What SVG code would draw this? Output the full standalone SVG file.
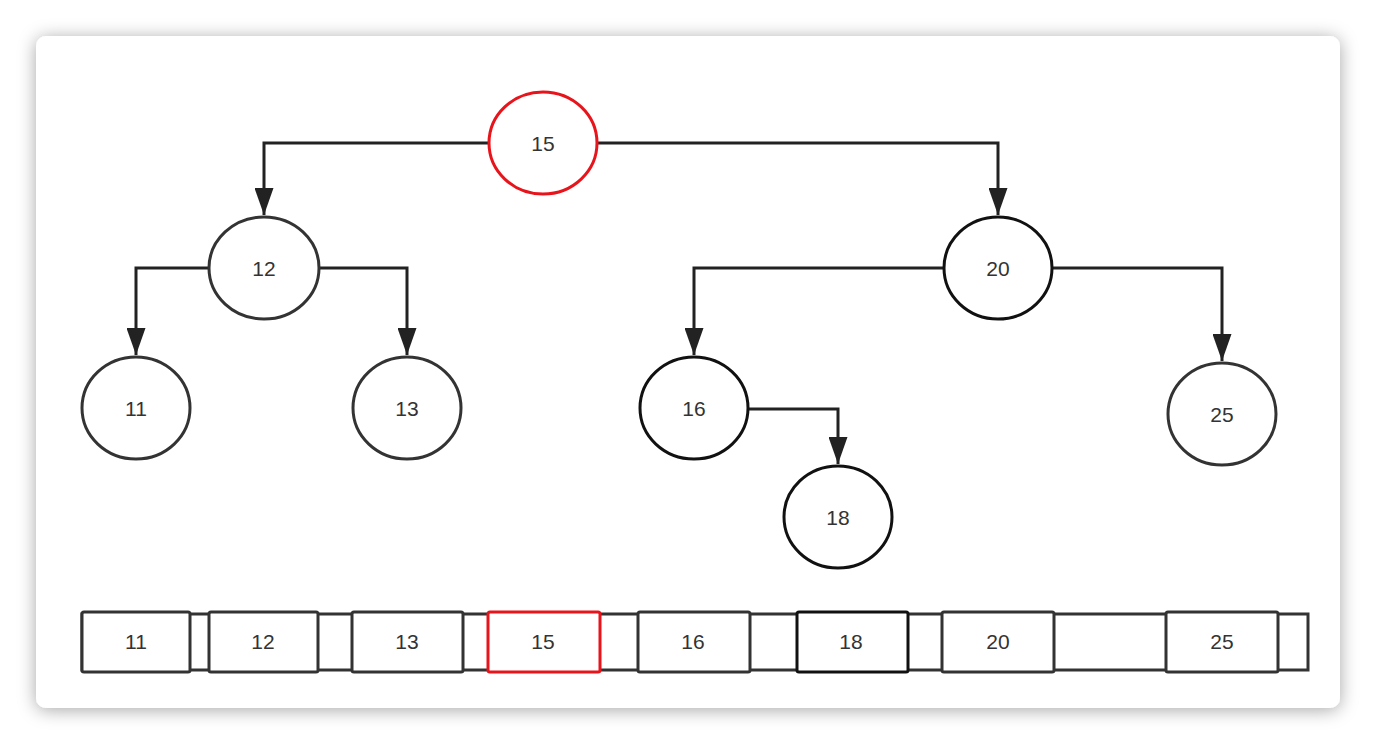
<svg xmlns="http://www.w3.org/2000/svg" width="1376" height="744" viewBox="0 0 1376 744">
<defs>
<filter id="sh" x="-5%" y="-8%" width="110%" height="116%">
<feDropShadow dx="0" dy="2" stdDeviation="9" flood-color="#000" flood-opacity="0.35"/>
</filter>
<marker id="ah" markerWidth="27" markerHeight="19" refX="27" refY="9.5" orient="auto" markerUnits="userSpaceOnUse" viewBox="0 0 27 19">
<path d="M0,0 L27,9.5 L0,19 Z" fill="#222"/>
</marker>
<style>
.n{fill:#fff;stroke:#333;stroke-width:3}
.b{fill:#fff;stroke:#333;stroke-width:3}
.k{stroke:#111}
.r{stroke:#e8141c}
.t{font-family:"Liberation Sans",Arial,sans-serif;font-size:21px;fill:#333;text-anchor:middle;dominant-baseline:central}
.c{fill:none;stroke:#222;stroke-width:3}
</style>
</defs>
<rect width="1376" height="744" fill="#fff"/>
<rect x="36" y="36" width="1304" height="672" rx="10" fill="#fff" filter="url(#sh)"/>
<g id="connectors">
<path class="c" d="M489,143 H264 V215" marker-end="url(#ah)"/>
<path class="c" d="M598,143 H998 V215" marker-end="url(#ah)"/>
<path class="c" d="M209,268 H136 V355" marker-end="url(#ah)"/>
<path class="c" d="M318,268 H407 V355" marker-end="url(#ah)"/>
<path class="c" d="M944,268 H694 V355" marker-end="url(#ah)"/>
<path class="c" d="M1052,268 H1222 V361" marker-end="url(#ah)"/>
<path class="c" d="M748,409 H838 V464" marker-end="url(#ah)"/>
</g>
<g id="n15"><ellipse class="n r" cx="543" cy="143" rx="54" ry="51"/><text class="t" x="543" y="143">15</text></g>
<g id="n12"><ellipse class="n" cx="264" cy="268" rx="55" ry="51"/><text class="t" x="264" y="268">12</text></g>
<g id="n20"><ellipse class="n k" cx="998" cy="268" rx="54" ry="51"/><text class="t" x="998" y="268">20</text></g>
<g id="n11"><ellipse class="n" cx="136" cy="408" rx="54" ry="51"/><text class="t" x="136" y="408">11</text></g>
<g id="n13"><ellipse class="n" cx="407" cy="408" rx="54" ry="51"/><text class="t" x="407" y="408">13</text></g>
<g id="n16"><ellipse class="n k" cx="694" cy="408" rx="54" ry="51"/><text class="t" x="694" y="408">16</text></g>
<g id="n25"><ellipse class="n" cx="1222" cy="414" rx="54" ry="51"/><text class="t" x="1222" y="414">25</text></g>
<g id="n18"><ellipse class="n k" cx="838" cy="517" rx="54" ry="51"/><text class="t" x="838" y="517">18</text></g>
<g id="array">
<rect class="b" x="82" y="614" width="1226" height="56"/>
<g id="a11"><rect class="b" x="82" y="612" width="108" height="60" rx="2"/><text class="t" x="136" y="641">11</text></g>
<g id="a12"><rect class="b" x="209" y="612" width="109" height="60" rx="2"/><text class="t" x="263" y="641">12</text></g>
<g id="a13"><rect class="b" x="352" y="612" width="111" height="60" rx="2"/><text class="t" x="407" y="641">13</text></g>
<g id="a15"><rect class="b r" x="488" y="612" width="112" height="60" rx="2"/><text class="t" x="543" y="641">15</text></g>
<g id="a16"><rect class="b" x="638" y="612" width="112" height="60" rx="2"/><text class="t" x="693" y="641">16</text></g>
<g id="a18"><rect class="b k" x="797" y="612" width="111" height="60" rx="2"/><text class="t" x="851" y="641">18</text></g>
<g id="a20"><rect class="b" x="942" y="612" width="112" height="60" rx="2"/><text class="t" x="998" y="641">20</text></g>
<g id="a25"><rect class="b" x="1166" y="612" width="112" height="60" rx="2"/><text class="t" x="1222" y="641">25</text></g>
</g>
</svg>
